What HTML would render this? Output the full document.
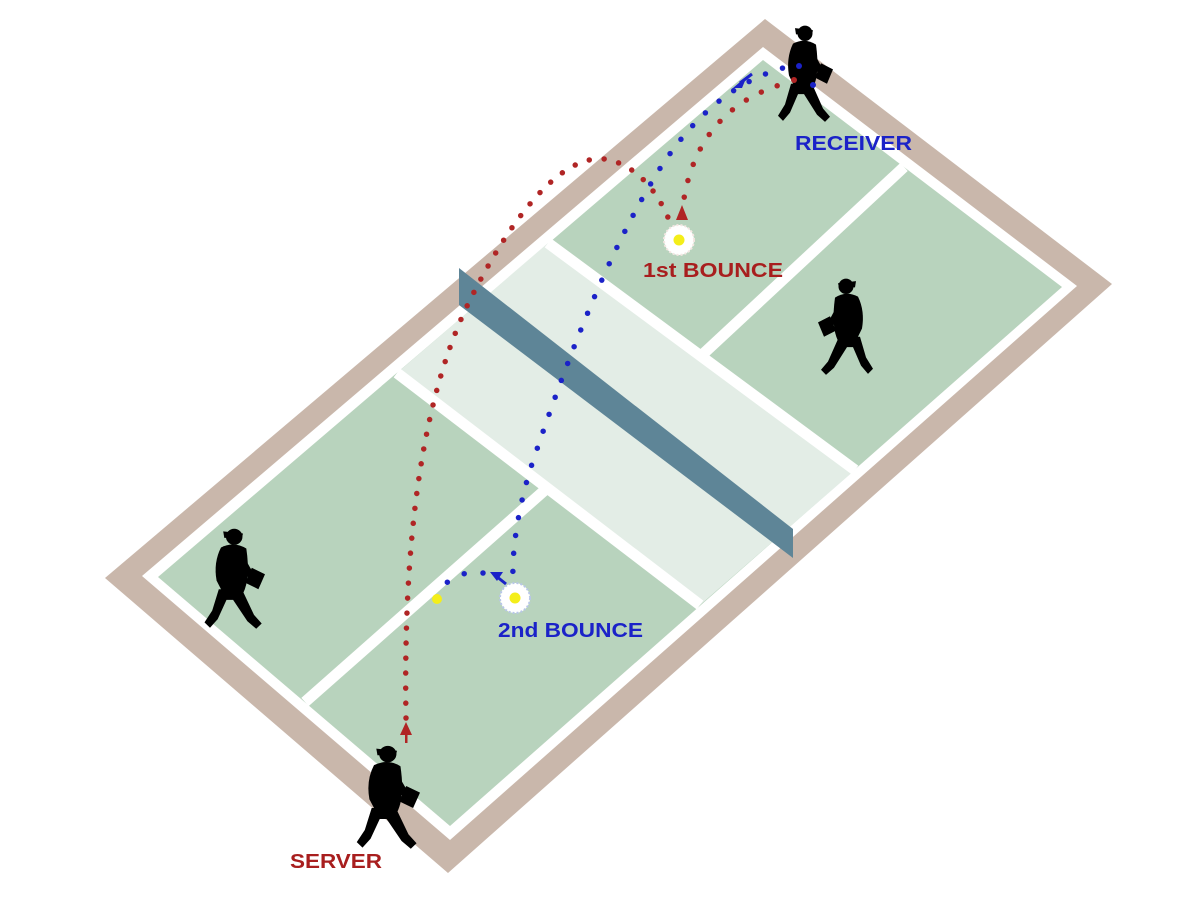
<!DOCTYPE html>
<html><head><meta charset="utf-8"><style>
html,body{margin:0;padding:0;background:#fff}
svg{display:block}
text{font-family:"Liberation Sans",Arial,sans-serif;font-weight:bold}
</style></head><body>
<svg width="1200" height="900" viewBox="0 0 1200 900" xmlns="http://www.w3.org/2000/svg">
<defs>
<g id="pl">
<circle cx="28" cy="11" r="7.5" fill="#000"/>
<path d="M20,8 L38,6 L37,12 L21,12 Z" fill="#000"/>
<path d="M17,22 Q28,15 40,21 Q47,35 44,52 L38,64 L20,64 Q13,50 17,22 Z" fill="#000"/>
<path d="M21,60 L10,84 L3,92 L8,97 L16,90 L29,70 L35,70 L43,88 L50,96 L55,91 L48,80 L42,60 Z" fill="#000"/>
<path d="M19,30 L9,48 L13,52 L24,38 Z" fill="#000"/>
<path d="M0,46 L12,40 L18,54 L6,60 Z" fill="#000"/>
</g>
</defs>
<polygon points="765,19 1112,284 448,873 105,578" fill="#c9b7ab"/>
<polygon points="763,47 1077,286 450,840 142,576" fill="#fff"/>
<polygon points="763,60 1062,287 450,826 158,577" fill="#b8d3bd"/>
<polygon points="548,243 855,470 700,605 397,373" fill="#e3ede6"/>
<g stroke="#fff" stroke-width="11" fill="none">
<line x1="548" y1="243" x2="855" y2="470"/>
<line x1="397" y1="373" x2="700" y2="605"/>
<line x1="702" y1="355" x2="904" y2="167"/>
<line x1="545" y1="490" x2="305" y2="702"/>
</g>
<polygon points="459,268 793,529 793,558 459,305" fill="#5e8597"/>
<!-- red paths -->
<g fill="#b02525">
<path d="M406,718 C404,600 410,420 470,300 C520,200 570,150 610,160 C640,168 660,195 671,225" fill="none" stroke="#b02525" stroke-width="5.5" stroke-linecap="round" stroke-dasharray="0 15"/>
<path d="M682,214 C688,150 720,100 790,82" fill="none" stroke="#b02525" stroke-width="5.5" stroke-linecap="round" stroke-dasharray="0 17"/>
<polygon points="406,722 400,735 412,735"/>
<rect x="405" y="733" width="2.5" height="10"/>
<polygon points="682,205 676,220 688,220"/>
</g>
<!-- blue paths -->
<g fill="#1b22c8">
<path d="M800,64 C740,75 690,115 650,185 C600,270 560,380 530,470 C518,510 512,550 513,578" fill="none" stroke="#1b22c8" stroke-width="5.5" stroke-linecap="round" stroke-dasharray="0 18"/>
<polygon points="733,88 747,76 742,88"/>
<line x1="740" y1="83" x2="752" y2="74" stroke="#1b22c8" stroke-width="3"/>
<path d="M483,573 C470,570 455,575 444,585" fill="none" stroke="#1b22c8" stroke-width="5.5" stroke-linecap="round" stroke-dasharray="0 19"/>
<polygon points="490,572 503,572 497,581"/>
<line x1="496" y1="576" x2="506" y2="584" stroke="#1b22c8" stroke-width="3"/>
</g>
<!-- bounces -->
<g>
<circle cx="679" cy="240" r="15" fill="#fff" stroke="#f3e6e2" stroke-width="2" stroke-dasharray="2 2"/>
<circle cx="679" cy="240" r="5.5" fill="#f4ee1a"/>
<circle cx="515" cy="598" r="15" fill="#fff" stroke="#b8c6e8" stroke-width="2" stroke-dasharray="2 2"/>
<circle cx="515" cy="598" r="5.5" fill="#f4ee1a"/>
<circle cx="437" cy="599" r="5" fill="#f4ee1a"/>
</g>
<!-- players -->
<use href="#pl" transform="translate(833,22) scale(-1.0,1.03)"/>
<circle cx="799" cy="66" r="3" fill="#1b22c8"/><circle cx="794" cy="80" r="3" fill="#b02525"/><circle cx="813" cy="85" r="3" fill="#1b22c8"/>
<use href="#pl" transform="translate(818,275) scale(1.0,1.03)"/>
<use href="#pl" transform="translate(265,525) scale(-1.1,1.07)"/>
<use href="#pl" transform="translate(420,742) scale(-1.15,1.1)"/>
<!-- labels -->
<text x="795" y="150" font-size="20" fill="#1b22c8" textLength="117" lengthAdjust="spacingAndGlyphs">RECEIVER</text>
<text x="643" y="277" font-size="20" fill="#a81e1e" textLength="140" lengthAdjust="spacingAndGlyphs">1st BOUNCE</text>
<text x="498" y="637" font-size="20" fill="#1b22c8" textLength="145" lengthAdjust="spacingAndGlyphs">2nd BOUNCE</text>
<text x="290" y="868" font-size="20" fill="#a81e1e" textLength="92" lengthAdjust="spacingAndGlyphs">SERVER</text>
</svg>
</body></html>
